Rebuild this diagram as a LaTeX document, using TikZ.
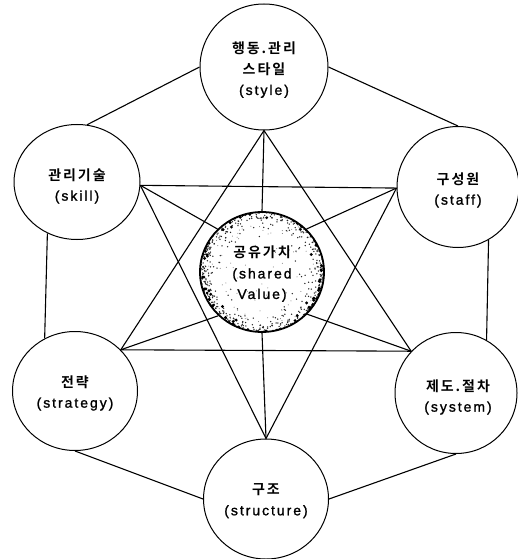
\documentclass[tikz,border=0pt]{standalone}
\usepackage{fontspec}
\usetikzlibrary{shapes.geometric}
\setmainfont{Liberation Sans}[LetterSpace=14,FakeBold=1.3]
\newfontfamily\kr{Noto Sans CJK KR Bold}[LetterSpace=14]
\pgfdeclareradialshading{speck}{\pgfpoint{0bp}{0bp}}{color(0bp)=(white); color(36bp)=(white); color(43bp)=(gray!20); color(47bp)=(gray!50); color(50bp)=(black!85)}
\begin{document}
\begin{tikzpicture}[x=1pt,y=-1pt,
  box/.style={ellipse,draw,line width=1pt,inner sep=0pt},
  txt/.style={align=center,font=\fontsize{14}{20.5}\selectfont,inner sep=0pt},
  conn/.style={line width=1.1pt}]
\useasboundingbox (0,0) rectangle (517,559);
% centre circle background texture
\shade[shading=speck] (262,272) ellipse [x radius=62, y radius=60];
\pgfmathsetseed{11}
\begin{scope}
\clip (262,272) ellipse [x radius=62, y radius=60];
\foreach \i in {1,...,650}{
  \pgfmathsetmacro\ang{360*rnd}
  \pgfmathsetmacro\rad{63*(rnd)^0.09}
  \fill[black!85,shift={(262,272)}] (\ang:\rad) circle (0.75);
}
\foreach \i in {1,...,110}{
  \pgfmathsetmacro\ang{360*rnd}
  \pgfmathsetmacro\rad{63*(rnd)^0.05}
  \fill[black,shift={(262,272)}] (\ang:\rad) circle (1.6);
}
\foreach \i in {1,...,110}{
  \pgfmathsetmacro\ang{360*rnd}
  \pgfmathsetmacro\rad{62*sqrt(rnd)}
  \fill[black!55,shift={(262,272)}] (\ang:\rad) circle (0.5);
}
\end{scope}
\node[box,minimum width=128pt,minimum height=126pt,
  label={[txt,yshift=-3pt]center:{{\kr 행동.관리}\\{\kr 스타일}\\(style)}}] (style) at (264,67) {};
\node[box,minimum width=126pt,minimum height=115pt,
  label={[txt,yshift=-4pt]center:{{\kr 관리기술}\\(skill)}}] (skill) at (77,182) {};
\node[box,minimum width=122pt,minimum height=121pt,
  label={[txt,yshift=-3pt]center:{{\kr 구성원}\\(staff)}}] (staff) at (458,187) {};
\node[box,minimum width=124pt,minimum height=120pt,line width=1.8pt,
  label={[txt,yshift=-2pt]center:{{\kr 공유가치}\\(shared\\Value)}}] (shared) at (262,272) {};
\node[box,minimum width=125pt,minimum height=119pt,
  label={[txt,yshift=-2pt]center:{{\kr 전략}\\(strategy)}}] (strategy) at (75,391) {};
\node[box,minimum width=122pt,minimum height=121pt,
  label={[txt,yshift=-4pt,xshift=2pt]center:{{\kr 제도.절차}\\(system)}}] (system) at (456,393) {};
\node[box,minimum width=125pt,minimum height=120pt,
  label={[txt,yshift=-2pt]center:{{\kr 구조}\\(structure)}}] (structure) at (266,499) {};
% outer ring
\draw[conn] (style.west) -- (skill.80);
\draw[conn] (style.east) -- (staff.north);
\draw[conn] (skill.240) -- (strategy.120);
\draw[conn] (staff.300) -- (system.60);
\draw[conn] (strategy.south) -- (structure.west);
\draw[conn] (system.south) -- (structure.east);
% two triangles
\draw[conn] (style.south) -- (strategy.42) -- (system.137) -- cycle;
\draw[conn] (skill.-3) -- (staff.181) -- (structure.north) -- cycle;
% spokes to the centre
\draw[conn] (style.south) -- (shared.north);
\draw[conn] (structure.north) -- (shared.south);
\draw[conn] (skill.-3) -- (shared.136);
\draw[conn] (staff.181) -- (shared.44);
\draw[conn] (strategy.42) -- (shared.-135);
\draw[conn] (system.137) -- (shared.-43);
\end{tikzpicture}
\end{document}
